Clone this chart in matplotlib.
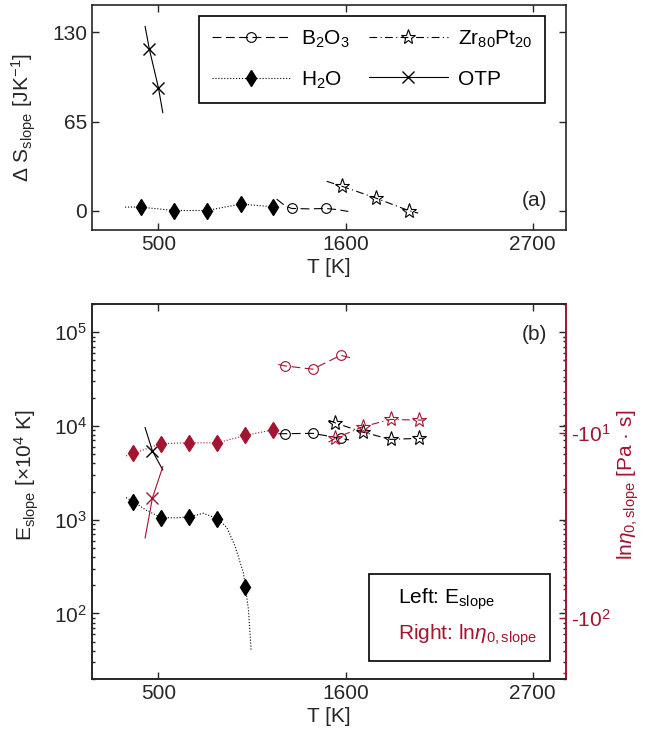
import numpy as np
import matplotlib
matplotlib.use("Agg")
import matplotlib.pyplot as plt
from matplotlib.lines import Line2D
from matplotlib.ticker import FixedLocator, FuncFormatter, LogLocator, NullFormatter

plt.rcParams['font.family'] = ['Liberation Sans', 'DejaVu Sans']
plt.rcParams['mathtext.fontset'] = 'custom'
plt.rcParams['mathtext.rm'] = 'Liberation Sans'
plt.rcParams['mathtext.it'] = 'Liberation Sans:italic'
plt.rcParams['mathtext.bf'] = 'Liberation Sans:bold'
plt.rcParams['font.size'] = 15

red = '#A2142F'
grey = '#262626'

# ---- panel (a): entropy slope ----
h2o_T_a = [396, 594, 784, 984, 1176]
h2o_S_a = [2.7, 0.2, 0.2, 4.9, 2.9]
h2o_fitT_a = [304, 396, 594, 784, 984, 1176, 1200]
h2o_fitS_a = [2.7, 2.7, 0.2, 0.2, 4.9, 2.9, 2.6]

b2o3_T_a = [1283, 1483]
b2o3_S_a = [1.7, 1.7]
b2o3_fitT_a = [1195, 1242, 1283, 1383, 1483, 1550, 1616]
b2o3_fitS_a = [8.5, 3.9, 1.7, 1.4, 1.7, 0.9, -0.5]

zr_T_a = [1581, 1777, 1973]
zr_S_a = [17.8, 9.3, 0.0]
zr_fitT_a = [1489, 1581, 1777, 1973, 2027]
zr_fitS_a = [21.5, 17.8, 9.3, 0.0, -1.7]

otp_T_a = [447, 500]
otp_S_a = [117.8, 89.8]
otp_fitT_a = [422, 447, 500, 526]
otp_fitS_a = [134.4, 117.8, 89.8, 71.5]

# ---- panel (b): activation energy (left) and ln eta0 (right) ----
h2o_T_E = [353, 516, 682, 847, 1011]
h2o_E = [1563, 1055, 1071, 1030, 192]
h2o_fitT_E = [310, 353, 430, 516, 600, 682, 764, 847, 902, 950, 999, 1011, 1029, 1045]
h2o_fitE = [1722, 1563, 1259, 1055, 1047, 1071, 1172, 1030, 826, 526, 274, 192, 111, 40]

h2o_T_n = [353, 516, 682, 847, 1011, 1175]
h2o_n = [-12.9, -11.4, -11.3, -11.3, -10.3, -9.6]
h2o_fitT_n = [310, 353, 516, 682, 847, 1011, 1175, 1200]
h2o_fitn = [-13.3, -12.9, -11.4, -11.3, -11.3, -10.3, -9.6, -9.5]

b2o3_T_b = [1244, 1407, 1571]
b2o3_E = [8280, 8340, 7380]
b2o3_fitT_E = [1205, 1244, 1407, 1571, 1620]
b2o3_fitE = [8250, 8280, 8340, 7380, 7100]
b2o3_n = [-4.33, -4.51, -3.79]
b2o3_fitT_n = [1205, 1244, 1407, 1571, 1650]
b2o3_fitn = [-4.25, -4.33, -4.51, -3.79, -3.96]

zr_T_b = [1538, 1700, 1865, 2029]
zr_E = [10800, 8610, 7190, 7380]
zr_fitT_b = [1500, 1538, 1700, 1865, 2029, 2060]
zr_fitE = [11500, 10800, 8610, 7190, 7380, 7400]
zr_n = [-10.7, -9.25, -8.44, -8.51]
zr_fitn = [-11.2, -10.7, -9.25, -8.44, -8.51, -8.5]

otp_T_b = [465]
otp_E = [5410]
otp_fitT_b = [422, 465, 526]
otp_fitE = [9600, 5410, 3390]
otp_n = [-22.5]
otp_fitn = [-37, -22.5, -15.2]

dash = (8, 4)
dashdot = (7, 3, 1, 3)
lw = 0.8
dms = 8.5

fig = plt.figure(figsize=(6.45, 7.43), dpi=100)
axa = fig.add_axes([92/645, 1-230/743, 474/645, 225/743])
axb = fig.add_axes([92/645, 64/743, 474/645, 375/743])
axr = axb.twinx()


def style(ax):
    ax.tick_params(which='both', direction='in', top=True, right=True,
                   colors=grey, labelsize=15, width=1)
    ax.tick_params(which='major', length=5)
    ax.tick_params(which='minor', length=2.5)
    for s in ax.spines.values():
        s.set_linewidth(1.2)
        s.set_color(grey)


# panel a
axa.plot(h2o_fitT_a, h2o_fitS_a, ':', color='k', lw=lw)
axa.plot(h2o_T_a, h2o_S_a, 'd', color='k', ms=dms)
axa.plot(b2o3_fitT_a, b2o3_fitS_a, color='k', lw=lw, dashes=dash)
axa.plot(b2o3_T_a, b2o3_S_a, 'o', color='k', mfc='none', ms=7, mew=0.8)
axa.plot(zr_fitT_a, zr_fitS_a, color='k', lw=lw, dashes=dashdot)
axa.plot(zr_T_a, zr_S_a, '*', color='k', mfc='none', ms=11, mew=0.8)
axa.plot(otp_fitT_a, otp_fitS_a, '-', color='k', lw=lw)
axa.plot(otp_T_a, otp_S_a, 'x', color='k', ms=9, mew=1)

axa.set_xlim(110, 2895)
axa.set_ylim(-14, 150)
axa.set_xticks([500, 1600, 2700])
axa.set_yticks([0, 65, 130])
style(axa)
axa.set_xlabel('T [K]', color=grey, labelpad=3)
axa.text(0.96, 0.09, '(a)', transform=axa.transAxes, ha='right', va='bottom',
         color=grey, fontsize=15)

handles = [
    Line2D([], [], color='k', lw=lw, dashes=dash, marker='o', mfc='none', ms=7, mew=0.8),
    Line2D([], [], color='k', lw=lw, ls=':', marker='d', ms=dms),
    Line2D([], [], color='k', lw=lw, dashes=dashdot, marker='*', mfc='none', ms=11, mew=0.8),
    Line2D([], [], color='k', lw=lw, ls='-', marker='x', ms=9, mew=1),
]
labels = ['B$_2$O$_3$', 'H$_2$O', 'Zr$_{80}$Pt$_{20}$', 'OTP']
leg = axa.legend(handles, labels, ncol=2, loc='upper right',
                 bbox_to_anchor=((545-92)/474, 1-(16-5)/225), borderaxespad=0,
                 handlelength=3.8, handletextpad=0.5, columnspacing=0.9,
                 labelspacing=0.95, borderpad=0.6, fancybox=False, framealpha=1,
                 edgecolor='k', fontsize=15, numpoints=1)
leg.get_frame().set_linewidth(1.2)

# panel b, left axis
axb.plot(h2o_fitT_E, h2o_fitE, ':', color='k', lw=lw)
axb.plot(h2o_T_E, h2o_E, 'd', color='k', ms=dms)
axb.plot(b2o3_fitT_E, b2o3_fitE, color='k', lw=lw, dashes=dash)
axb.plot(b2o3_T_b, b2o3_E, 'o', color='k', mfc='none', ms=7, mew=0.8)
axb.plot(zr_fitT_b, zr_fitE, color='k', lw=lw, dashes=dashdot)
axb.plot(zr_T_b, zr_E, '*', color='k', mfc='none', ms=11, mew=0.8)
axb.plot(otp_fitT_b, otp_fitE, '-', color='k', lw=lw)
axb.plot(otp_T_b, otp_E, 'x', color='k', ms=9, mew=1)
axb.set_yscale('log')
axb.set_ylim(20, 2e5)
axb.set_xlim(110, 2895)
axb.set_xticks([500, 1600, 2700])
style(axb)
axb.set_xlabel('T [K]', color=grey, labelpad=3)
axb.text(0.96, 0.945, '(b)', transform=axb.transAxes, ha='right', va='top',
         color=grey, fontsize=15)

# panel b, right axis (negative log values, drawn as magnitudes on an inverted log axis)
axr.plot(h2o_fitT_n, np.abs(h2o_fitn), ':', color=red, lw=lw)
axr.plot(h2o_T_n, np.abs(h2o_n), 'd', color=red, ms=dms)
axr.plot(b2o3_fitT_n, np.abs(b2o3_fitn), color=red, lw=lw, dashes=dash)
axr.plot(b2o3_T_b, np.abs(b2o3_n), 'o', color=red, mfc='none', ms=7, mew=0.8)
axr.plot(zr_fitT_b, np.abs(zr_fitn), color=red, lw=lw, dashes=dashdot)
axr.plot(zr_T_b, np.abs(zr_n), '*', color=red, mfc='none', ms=11, mew=0.8)
axr.plot(otp_fitT_b, np.abs(otp_fitn), '-', color=red, lw=lw)
axr.plot(otp_T_b, np.abs(otp_n), 'x', color=red, ms=9, mew=1)
axr.set_yscale('log')
axr.set_ylim(215, 2)
axr.yaxis.set_major_locator(FixedLocator([10, 100]))
axr.yaxis.set_major_formatter(FuncFormatter(lambda v, p: '-$10^{%d}$' % round(np.log10(v))))
axr.yaxis.set_minor_locator(LogLocator(base=10, subs=np.arange(2, 10), numticks=12))
axr.yaxis.set_minor_formatter(NullFormatter())
axr.tick_params(which='both', direction='in', colors=red, labelsize=15, width=1)
axr.tick_params(which='major', length=5)
axr.tick_params(which='minor', length=2.5)
for s in axr.spines.values():
    s.set_linewidth(1.2)
    s.set_color(grey)
axr.spines['right'].set_color(red)
axb.spines['right'].set_color(red)

leg2 = axr.legend([Line2D([], [], ls='none'), Line2D([], [], ls='none')],
                  ['Left: E$_{\\rm slope}$', 'Right: ln$\\eta_{0,\\rm slope}$'],
                  loc='lower right', bbox_to_anchor=((550-92)/474, (679-661)/375),
                  borderaxespad=0, handlelength=0.6, handletextpad=0.2,
                  labelspacing=0.55, borderpad=0.6, fancybox=False, framealpha=1,
                  edgecolor='k', fontsize=15, labelcolor=['k', red])
leg2.get_frame().set_linewidth(1.2)

# axis labels
fig.text(24/645, 1-118/743, 'Δ S$_{\\rm slope}$ [JK$^{-1}$]', rotation=90,
         ha='center', va='center', color=grey, fontsize=15)
fig.text(27/645, 1-475/743, 'E$_{\\rm slope}$ [×10$^4$ K]', rotation=90,
         ha='center', va='center', color=grey, fontsize=15)
fig.text(628/645, 1-485/743, 'ln$\\eta_{0,\\rm slope}$ [Pa · s]', rotation=90,
         ha='center', va='center', color=red, fontsize=15)

fig.savefig('out.png', dpi=100)
